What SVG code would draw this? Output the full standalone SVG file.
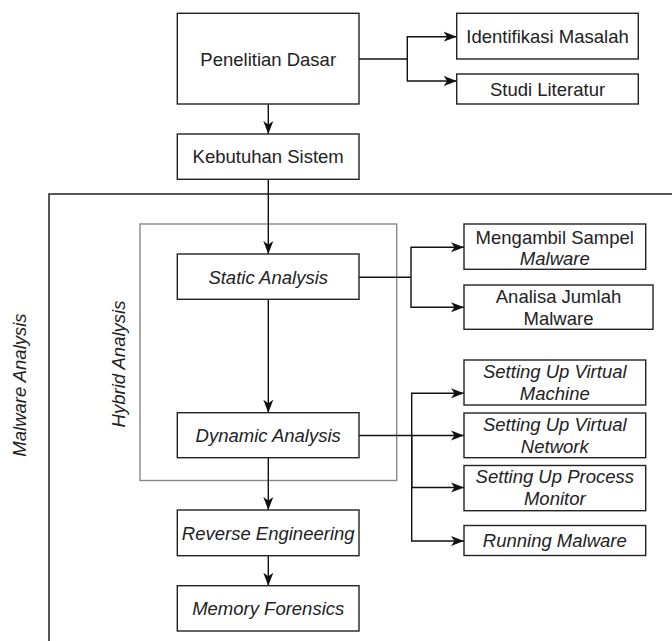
<svg xmlns="http://www.w3.org/2000/svg" width="672" height="641" viewBox="0 0 672 641">
<defs>
<marker id="ah" markerUnits="userSpaceOnUse" markerWidth="14" markerHeight="12" refX="13" refY="6" orient="auto">
<path d="M0,1 L13,6 L0,11 L3.5,6 Z" fill="#111"/>
</marker>
<style>
.box{fill:#fff;stroke:#222;stroke-width:1.4}
.frame{fill:none;stroke:#111;stroke-width:1.4}
.hyb{fill:none;stroke:#888;stroke-width:1.4}
.t{font-family:"Liberation Sans",Arial,sans-serif;font-size:18.5px;fill:#222;text-anchor:middle;dominant-baseline:central}
.i{font-style:italic}
.c{fill:none;stroke:#111;stroke-width:1.4}
.ca{fill:none;stroke:#111;stroke-width:1.4;marker-end:url(#ah)}
</style>
</defs>
<rect width="672" height="641" fill="#fff"/>

<g id="frame-malware-analysis">
<rect class="frame" x="49" y="194" width="700" height="520"/>
<text class="t i" transform="translate(19,385) rotate(-90)">Malware Analysis</text>
</g>
<g id="frame-hybrid-analysis">
<rect class="hyb" x="140" y="224" width="256.7" height="256.5"/>
<text class="t i" transform="translate(118,364) rotate(-90)">Hybrid Analysis</text>
</g>

<g id="connectors">
<path class="ca" d="M268.3,104 V134"/>
<path class="c" d="M359,59 H407.3"/>
<path class="ca" d="M407.3,59 V36.7 H456.7"/>
<path class="ca" d="M407.3,59 V81 H456.7"/>
<path class="ca" d="M268.3,179.3 V254"/>
<path class="c" d="M359,277.3 H411"/>
<path class="ca" d="M411,277.3 V247.3 H464"/>
<path class="ca" d="M411,277.3 V307.3 H464"/>
<path class="ca" d="M268.3,299.3 V412.7"/>
<path class="ca" d="M359,435.5 H464"/>
<path class="ca" d="M411.7,435.5 V393.3 H464"/>
<path class="ca" d="M411.7,435.5 V487.5 H464"/>
<path class="ca" d="M411.7,435.5 V541 H464"/>
<path class="ca" d="M268.3,457.7 V510"/>
<path class="ca" d="M268.3,555.7 V585.7"/>
</g>

<g id="penelitian-dasar">
<rect class="box" x="177.3" y="13.3" width="181.7" height="90.7"/>
<text class="t" x="268.2" y="59">Penelitian Dasar</text>
</g>
<g id="identifikasi-masalah">
<rect class="box" x="456.7" y="13.3" width="181.6" height="45.7"/>
<text class="t" x="547.5" y="36.5">Identifikasi Masalah</text>
</g>
<g id="studi-literatur">
<rect class="box" x="456.7" y="74" width="181.6" height="30"/>
<text class="t" x="547.5" y="89">Studi Literatur</text>
</g>
<g id="kebutuhan-sistem">
<rect class="box" x="177.3" y="134" width="181.7" height="45.3"/>
<text class="t" x="268.2" y="156.7">Kebutuhan Sistem</text>
</g>
<g id="static-analysis">
<rect class="box" x="177.3" y="254" width="181.7" height="45.3"/>
<text class="t i" x="268.2" y="277">Static Analysis</text>
</g>
<g id="mengambil-sampel">
<rect class="box" x="464" y="224" width="181.7" height="45.3"/>
<text class="t" x="554.8" y="237">Mengambil Sampel</text>
<text class="t i" x="554.8" y="258.5">Malware</text>
</g>
<g id="analisa-jumlah">
<rect class="box" x="464" y="285" width="189" height="44.3"/>
<text class="t" x="558.5" y="296.5">Analisa Jumlah</text>
<text class="t" x="558.5" y="318">Malware</text>
</g>
<g id="dynamic-analysis">
<rect class="box" x="177.3" y="412.7" width="181.7" height="45"/>
<text class="t i" x="268.2" y="435.2">Dynamic Analysis</text>
</g>
<g id="setting-vm">
<rect class="box" x="464" y="360" width="181.7" height="45"/>
<text class="t i" x="554.8" y="371.7">Setting Up Virtual</text>
<text class="t i" x="554.8" y="393">Machine</text>
</g>
<g id="setting-network">
<rect class="box" x="464" y="413" width="181.7" height="44.7"/>
<text class="t i" x="554.8" y="424">Setting Up Virtual</text>
<text class="t i" x="554.8" y="446">Network</text>
</g>
<g id="setting-process">
<rect class="box" x="464" y="465.5" width="181.7" height="45.2"/>
<text class="t i" x="554.8" y="476.7">Setting Up Process</text>
<text class="t i" x="554.8" y="498.3">Monitor</text>
</g>
<g id="running-malware">
<rect class="box" x="464" y="525.5" width="181.7" height="30"/>
<text class="t i" x="554.8" y="540.7">Running Malware</text>
</g>
<g id="reverse-engineering">
<rect class="box" x="177.3" y="510" width="181.7" height="45.7"/>
<text class="t i" x="268.2" y="533">Reverse Engineering</text>
</g>
<g id="memory-forensics">
<rect class="box" x="177.3" y="585.7" width="181.7" height="45.3"/>
<text class="t i" x="268.2" y="608.3">Memory Forensics</text>
</g>
</svg>
